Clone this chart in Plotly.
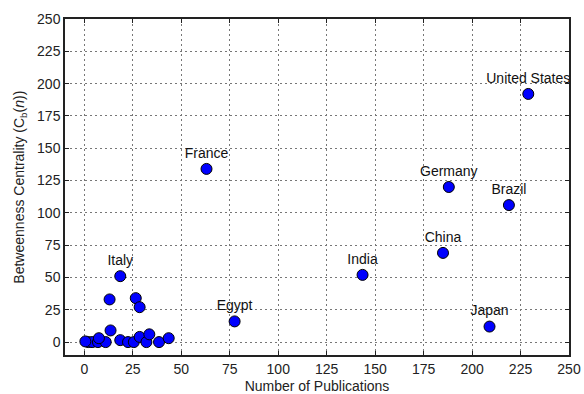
import plotly.graph_objects as go

# Labeled countries
countries = ["United States", "France", "Germany", "Brazil", "China", "India", "Egypt", "Japan", "Italy"]
pubs_labeled = [229, 63, 188, 219, 185, 143.5, 77.5, 209, 18.5]
bc_labeled = [192, 134, 120, 106, 69, 52, 16, 12, 51]

# Unlabeled countries (small cluster)
pubs_other = [13, 26.5, 28.5, 13.5, 2, 4, 7, 11, 18.5, 22.5, 25.5, 28.5, 32, 33.5, 38.5, 43.5, 7.5, 0.5]
bc_other = [33, 34, 27, 9, 0, 0, 0, 0, 1.5, 0, 0, 4, 0, 6, 0, 3, 3, 0.5]

xticks = [0, 25, 50, 75, 100, 125, 150, 175, 200, 225, 250]
yticks = [0, 25, 50, 75, 100, 125, 150, 175, 200, 225, 250]

marker = dict(size=11, color="#0000ff", line=dict(color="black", width=1))

fig = go.Figure()
fig.add_trace(go.Scatter(x=pubs_other, y=bc_other, mode="markers", marker=marker,
                         showlegend=False, hoverinfo="skip"))
fig.add_trace(go.Scatter(x=pubs_labeled, y=bc_labeled, mode="markers+text", marker=marker,
                         text=countries, textposition="top center",
                         textfont=dict(size=14, color="#111111"), showlegend=False))

axis_common = dict(
    showgrid=True, gridcolor="#777777", griddash="2px,3px", gridwidth=1,
    showline=True, linecolor="#222222", linewidth=1.5, mirror="ticks",
    ticks="inside", ticklen=4, tickcolor="#222222",
    zeroline=False, tickfont=dict(size=14, color="#222222"),
    automargin=False,
)

fig.update_xaxes(range=[-10, 250], tickvals=xticks, ticktext=[str(v) for v in xticks],
                 title=dict(text="Number of Publications", font=dict(size=14, color="#222222")),
                 **axis_common)
fig.update_yaxes(range=[-10, 250], tickvals=yticks, ticktext=[str(v) for v in yticks],
                 **axis_common)

fig.add_annotation(
    text="Betweenness Centrality (C<sub>b</sub>(<i>n</i>))",
    xref="paper", yref="paper", x=-0.09, y=0.5, xanchor="center", yanchor="middle",
    textangle=-90, showarrow=False, font=dict(size=14, color="#222222"),
)

fig.update_layout(
    width=584, height=394,
    margin=dict(l=65, r=15, t=19, b=39),
    paper_bgcolor="white", plot_bgcolor="white",
    font=dict(family="Liberation Sans, Arial, sans-serif", color="#222222"),
)

fig.write_html("out.html")
